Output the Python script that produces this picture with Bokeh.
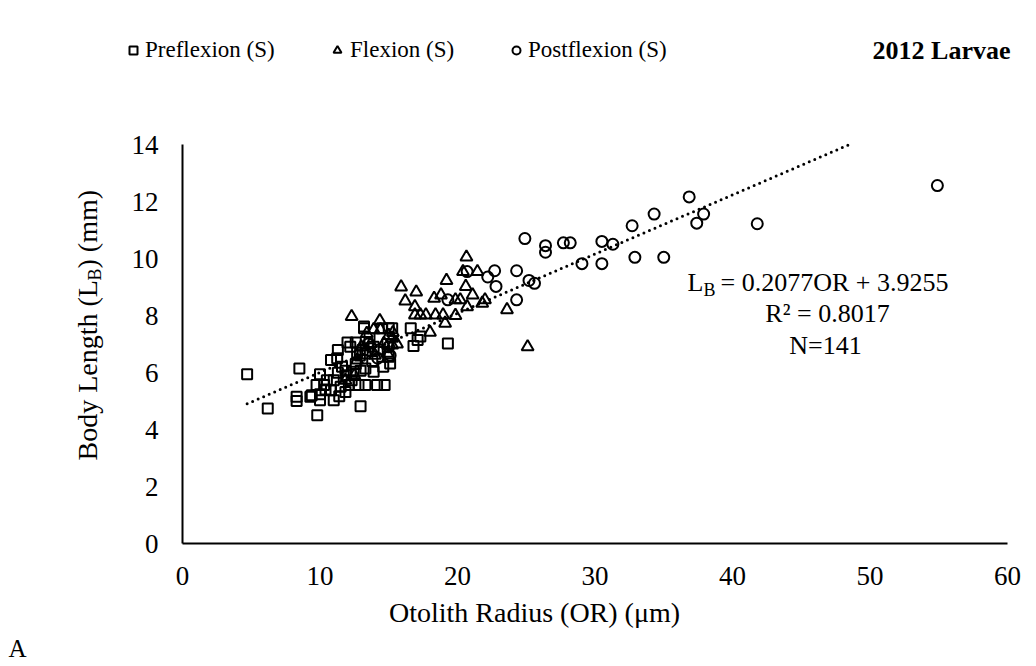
import math
from bokeh.plotting import figure
from bokeh.models import Label, Legend, LegendItem, FixedTicker, Range1d
from bokeh.embed import file_html
from bokeh.resources import INLINE

# ---------------- data ----------------
pre_x = [4.7, 6.2, 8.5, 8.3, 8.3, 9.3, 9.8, 10.0, 10.0, 9.75, 10.3, 10.8, 11.3, 11.85, 12.45,
         12.95, 13.3, 13.9, 10.8, 11.25, 11.3, 12.0, 12.6, 12.8, 13.3, 14.15, 14.7, 12.95, 11.5,
         11.85, 11.0, 10.5, 12.1, 12.3, 10.0, 11.0, 11.4, 13.2, 13.1, 13.3, 16.6, 17.3, 17.1,
         16.8, 19.3, 15.25, 15.0, 14.5, 13.2, 15.0, 15.1, 12.6, 13.8, 14.2, 14.6, 12.2, 13.6,
         14.9, 10.4, 11.6, 9.4, 12.9, 13.9, 11.9, 12.7]
pre_y = [5.94, 4.74, 6.14, 5.15, 5.0, 5.15, 4.5, 5.03, 5.94, 5.56, 5.56, 5.38, 5.99, 6.06, 6.03,
         6.06, 6.14, 6.03, 6.44, 6.5, 6.79, 7.05, 7.05, 5.56, 5.56, 5.56, 5.56, 4.82, 5.5,
         5.32, 5.73, 5.73, 5.56, 5.73, 5.24, 5.03, 5.17, 7.55, 6.79, 6.67, 7.55, 7.26, 7.14,
         6.93, 7.02, 7.55, 7.55, 7.55, 7.61, 6.55, 6.32, 6.3, 6.4, 6.8, 6.2, 6.9, 7.2,
         7.0, 5.4, 6.2, 5.2, 6.6, 6.9, 5.9, 6.7]

flex_x = [12.3, 14.35, 15.9, 17.0, 19.2, 16.2, 20.65, 20.4, 21.45, 18.3, 18.8, 19.85, 20.2,
          20.6, 21.1, 16.9, 16.9, 17.3, 17.7, 18.4, 18.95, 19.85, 19.1, 20.7, 21.8, 22.0, 23.6,
          25.1, 18.0, 15.25, 15.25, 13.4, 13.7, 14.65, 14.9, 12.7, 11.85, 14.4, 15.0, 13.0,
          14.0, 12.5, 15.3, 13.9, 15.6]
flex_y = [7.96, 7.82, 9.0, 8.82, 9.23, 8.51, 10.05, 9.54, 9.54, 8.6, 8.72, 8.55, 8.55,
          9.02, 8.72, 8.31, 8.02, 8.02, 8.02, 8.02, 8.02, 8.0, 7.73, 8.31, 8.43, 8.55, 8.2,
          6.9, 7.41, 7.2, 6.96, 7.37, 7.02, 7.02, 6.67, 6.44, 5.73, 7.5, 7.3, 6.9,
          6.6, 5.9, 7.4, 7.5, 7.0]

post_x = [24.9, 26.4, 26.4, 27.7, 28.2, 30.5, 31.3, 32.7, 34.3, 36.85, 37.9, 37.4, 29.05, 30.5,
          32.9, 35.0, 22.7, 22.2, 24.3, 25.2, 25.6, 22.8, 24.3, 20.7, 19.3, 54.9, 41.8, 14.2,
          15.1, 13.5, 15.0]
post_y = [10.7, 10.45, 10.22, 10.55, 10.55, 10.6, 10.5, 11.15, 11.56, 12.16, 11.56, 11.24, 9.82,
          9.82, 10.04, 10.04, 9.57, 9.35, 9.57, 9.23, 9.13, 9.02, 8.55, 9.54, 8.55, 12.56, 11.22,
          6.5, 6.6, 7.0, 6.9]

slope = 0.2077
intercept = 3.9255
trend_x = [4.7, 48.7]
trend_y = [slope * v + intercept for v in trend_x]

x_ticks = [0, 10, 20, 30, 40, 50, 60]
y_ticks = [0, 2, 4, 6, 8, 10, 12, 14]

FONT = "Liberation Serif"

# ---------------- layout geometry (canvas pixels) ----------------
W, H = 1030, 664
AX_LEFT, AX_BOTTOM = 182, 543          # pixel position of x=0 / y=0
PX_X, PX_Y = 825 / 60, 399 / 14        # pixels per data unit

def dx(px):
    return (px - AX_LEFT) / PX_X

def dy(py):
    return (AX_BOTTOM - py) / PX_Y

p = figure(width=W, height=H,
           x_range=Range1d(dx(0), dx(W)), y_range=Range1d(dy(H), dy(0)),
           output_backend="svg", toolbar_location=None,
           min_border=0, min_border_left=0, min_border_right=0,
           min_border_top=0, min_border_bottom=0)
p.outline_line_color = None
p.xgrid.grid_line_color = None
p.ygrid.grid_line_color = None
p.background_fill_color = "white"
p.border_fill_color = "white"

for ax in (p.xaxis[0], p.yaxis[0]):
    ax.fixed_location = 0
    ax.axis_line_color = "black"
    ax.axis_line_width = 2
    ax.major_tick_in = 0
    ax.major_tick_out = 0
    ax.minor_tick_line_color = None
    ax.major_tick_line_color = None
    ax.major_label_text_font = FONT
    ax.major_label_text_font_size = "27px"
    ax.major_label_text_color = "black"

p.xaxis[0].bounds = (0, 60)
p.yaxis[0].bounds = (0, 14)
p.xaxis[0].ticker = FixedTicker(ticks=x_ticks)
p.yaxis[0].ticker = FixedTicker(ticks=y_ticks)
p.xaxis[0].major_label_standoff = 23
p.yaxis[0].major_label_standoff = 24

# trend line
p.line(trend_x, trend_y, line_color="black", line_width=3, line_dash="0 6", line_cap="round")

r_pre = p.scatter(pre_x, pre_y, marker="square", size=10, fill_color=None,
                  line_color="black", line_width=2)
r_flex = p.scatter(flex_x, flex_y, marker="triangle", size=12, fill_color=None,
                   line_color="black", line_width=2)
r_post = p.scatter(post_x, post_y, marker="circle", size=11, fill_color=None,
                   line_color="black", line_width=2)

# legends (three separate entries along the top)
def make_legend(label, rend, px_left, standoff):
    lg = Legend(items=[LegendItem(label=label, renderers=[rend])],
                location=(px_left, H - 63),
                orientation="horizontal", padding=0, margin=0, spacing=0,
                border_line_color=None, background_fill_alpha=0,
                glyph_width=20, glyph_height=24, label_height=24, label_standoff=standoff,
                label_text_font=FONT, label_text_font_size="23px", label_text_color="black")
    p.add_layout(lg, "center")

make_legend("Preflexion (S)", r_pre, 123, 2)
make_legend("Flexion (S)", r_flex, 327, 3)
make_legend("Postflexion (S)", r_post, 506, 2)

def lab(text, px, py, size="27px", align="left", angle=0.0, style="normal"):
    p.add_layout(Label(x=dx(px), y=dy(py), text=text,
                       text_font=FONT, text_font_size=size, text_align=align,
                       text_baseline="middle", angle=angle, text_color="black",
                       text_font_style=style))

# title and panel letter
lab("2012 Larvae", 1010, 50, size="26px", align="right", style="bold")
lab("A", 8, 648, size="25px")

# axis titles
lab("Otolith Radius (OR) (μm)", 534, 612, size="28px", align="center")
a = math.pi / 2
lab("Body Length (L", 87, 460, size="28px", angle=a)
lab("B", 94, 280, size="18px", angle=a)
lab(") (mm)", 87, 268, size="28px", angle=a)

# regression annotation
lab("L", 687, 282, size="26px")
lab("B", 703, 289, size="18px")
lab("= 0.2077OR + 3.9255", 720, 282, size="26px")
lab("R² = 0.8017", 827, 313, size="26px", align="center")
lab("N=141", 825, 345, size="26px", align="center")

open("out.html", "w").write(file_html(p, INLINE))
